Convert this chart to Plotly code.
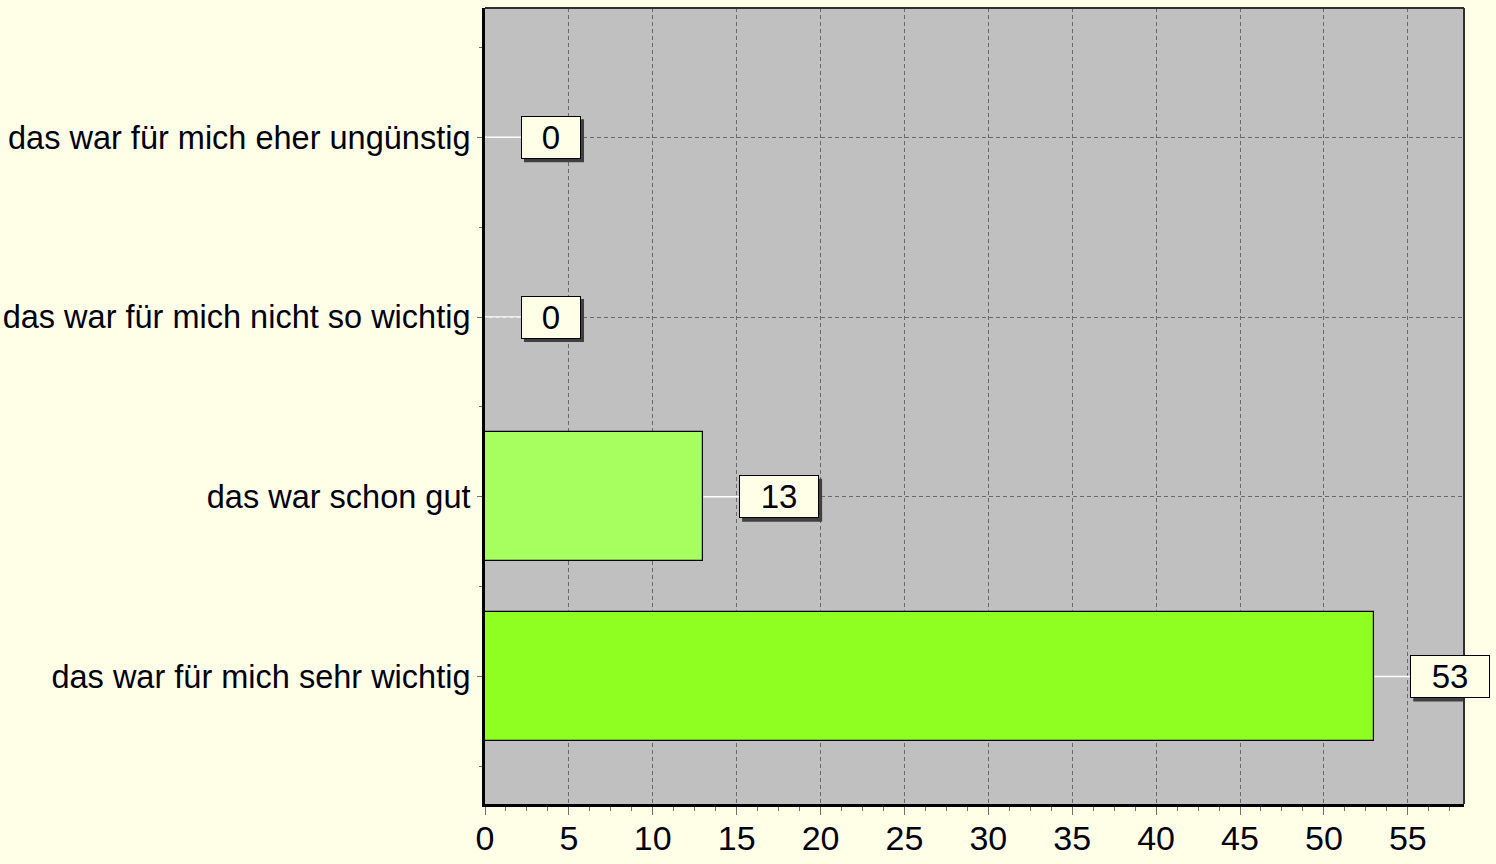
import plotly.graph_objects as go

categories = [
    "das war für mich sehr wichtig",
    "das war schon gut",
    "das war für mich nicht so wichtig",
    "das war für mich eher ungünstig",
]
values = [53, 13, 0, 0]
bar_colors = ["#8FFF22", "#A6FF5E", "#A6FF5E", "#A6FF5E"]
x_ticks = [0, 5, 10, 15, 20, 25, 30, 35, 40, 45, 50, 55]

ypos = list(range(len(categories)))

fig = go.Figure()
fig.add_trace(go.Bar(
    x=values, y=ypos, orientation="h", width=0.72,
    marker=dict(color=bar_colors, line=dict(color="#000000", width=1.2)),
    hoverinfo="skip", showlegend=False,
))

shapes = []
annotations = []
for v, y in zip(values, ypos):
    label = str(v)
    w = 40 + 20 * len(label)
    gap = 36
    shapes.append(dict(type="line", xref="x", yref="y", xsizemode="pixel", xanchor=v,
                       x0=0, x1=gap, y0=y, y1=y, line=dict(color="#FFFFFF", width=1.5),
                       layer="above"))
    shapes.append(dict(type="rect", xref="x", yref="y", xsizemode="pixel", ysizemode="pixel",
                       xanchor=v, yanchor=y, x0=gap + 3, x1=gap + w + 3, y0=-22 - 3, y1=21 - 3,
                       fillcolor="#404040", line=dict(width=0), layer="above"))
    annotations.append(dict(x=v, y=y, xref="x", yref="y", text=label, showarrow=False,
                            xanchor="left", yanchor="middle", xshift=gap, width=w - 2, height=41,
                            bgcolor="#FFFFE8", bordercolor="#000000", borderwidth=1, borderpad=0,
                            font=dict(family="Liberation Sans, Arial", size=33, color="#000010")))

shapes.append(dict(type="line", xref="x domain", yref="y domain", x0=0, x1=1, y0=1, y1=1,
                   line=dict(color="#303030", width=2), layer="above"))
shapes.append(dict(type="line", xref="x domain", yref="y domain", x0=1, x1=1, y0=0, y1=1,
                   line=dict(color="#303030", width=2), layer="above"))

fig.update_layout(
    width=1496, height=864,
    margin=dict(l=485, r=32, t=8, b=60, autoexpand=False),
    paper_bgcolor="#FFFFE8", plot_bgcolor="#C0C0C0",
    font=dict(family="Liberation Sans, Arial", color="#000010"),
    shapes=shapes, annotations=annotations,
    bargap=0,
)
fig.update_xaxes(
    range=[0, 58.35], tickvals=x_ticks, ticktext=[str(t) for t in x_ticks],
    automargin=False,
    showgrid=True, gridcolor="#6A6A6A", griddash="4px,3px", gridwidth=1,
    zeroline=False, showline=True, linecolor="#000000", linewidth=3,
    ticks="outside", ticklen=8, tickcolor="#707070", tickwidth=1,
    ticklabelstandoff=-6,
    minor=dict(dtick=1.25, tick0=0, ticks="outside", ticklen=4, tickcolor="#707070", showgrid=False),
    tickfont=dict(size=34, color="#000010"),
)
fig.update_yaxes(
    range=[-0.71, 3.72], tickvals=ypos, ticktext=categories,
    automargin=False,
    showgrid=True, gridcolor="#6A6A6A", griddash="4px,3px", gridwidth=1,
    zeroline=False, showline=True, linecolor="#000000", linewidth=3,
    ticks="outside", ticklen=5, tickcolor="#707070", tickwidth=1,
    minor=dict(dtick=0.5, tick0=-0.5, ticks="outside", ticklen=3, tickcolor="#707070", showgrid=False),
    tickfont=dict(size=32.5, color="#000010"),
)

fig.write_html("out.html", config={"displayModeBar": False},
               post_script="document.body.style.margin='0';")
